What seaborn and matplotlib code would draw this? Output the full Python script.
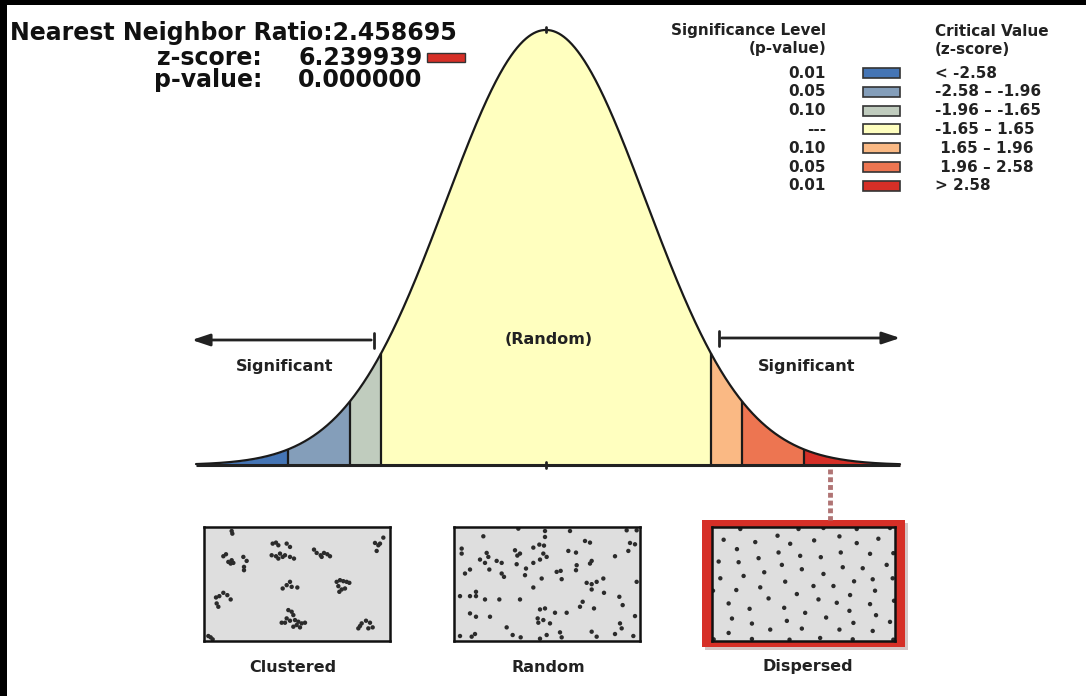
import numpy as np
import matplotlib
matplotlib.use("Agg")
import matplotlib.pyplot as plt
from matplotlib.patches import Rectangle
import seaborn as sns

# summary values
ratio_value = "2.458695"
z_score_value = "6.239939"
p_value_value = "0.000000"

# class breaks on the z axis and their colours
z_breaks = [-3.5, -2.58, -1.96, -1.65, 1.65, 1.96, 2.58, 3.54]
bin_colors = ["#4575b5", "#849eba", "#c0ccbe", "#ffffbf", "#fab984", "#ed7551", "#d62f27"]
legend_p = ["0.01", "0.05", "0.10", "---", "0.10", "0.05", "0.01"]
legend_z = ["< -2.58", "-2.58 \u2013 -1.96", "-1.96 \u2013 -1.65", "-1.65 \u2013 1.65",
            " 1.65 \u2013 1.96", " 1.96 \u2013 2.58", "> 2.58"]
panel_labels = ["Clustered", "Random", "Dispersed"]

# point patterns (box units)
clustered_x = [125, 127, 100, 108, 115, 122, 130, 125, 160, 170, 162, 162,
               248, 258, 265, 290, 300, 245, 258, 270, 278, 285, 300, 312, 265,
               372, 380, 392, 402, 412, 420, 395, 580, 555, 565, 570, 560,
               278, 290, 300, 305, 322, 440, 450, 460, 470, 478, 445, 455, 465, 448,
               78, 88, 100, 112, 122, 80, 85,
               295, 305, 310, 290, 300, 275, 285, 315, 325, 335, 345, 320, 330, 310,
               505, 510, 515, 528, 540, 535, 548, 55, 62, 68]
clustered_y = [62, 70, 138, 132, 155, 160, 158, 150, 140, 152, 170, 180,
               100, 97, 105, 100, 110, 135, 138, 130, 140, 135, 140, 145, 145,
               118, 128, 135, 128, 132, 138, 140, 82, 98, 105, 100, 122,
               235, 225, 215, 230, 232, 215, 210, 213, 215, 218, 228, 238, 235, 245,
               262, 258, 248, 255, 268, 280, 290,
               300, 305, 315, 325, 332, 338, 338, 330, 335, 340, 338, 345, 352, 350,
               355, 348, 340, 332, 338, 355, 352, 378, 382, 388]
random_x = [130, 235, 315, 390, 560, 590, 315, 435, 450, 570, 585,
            65, 225, 280, 298, 312, 385, 408, 565, 65, 140, 145, 240, 232, 310, 320, 525,
            120, 135, 170, 185, 230, 280, 300, 410, 455, 450,
            90, 75, 148, 185, 192, 258, 255, 350, 362, 408, 305, 365,
            440, 455, 470, 490, 455, 590, 280,
            60, 90, 108, 108, 135, 178, 240, 492, 538, 548,
            428, 420, 462, 300, 315, 380, 345,
            90, 108, 150, 293, 310, 295, 330, 585,
            540, 545, 200, 218, 242, 300, 320, 360, 365, 455, 470, 525, 580, 60, 95, 105]
random_y = [78, 55, 62, 62, 60, 60, 80, 92, 97, 98, 102,
            115, 120, 112, 103, 106, 122, 127, 122, 130, 128, 140, 130, 136, 130, 140, 138,
            148, 158, 152, 158, 162, 158, 148, 165, 152, 160,
            178, 190, 178, 190, 200, 175, 195, 185, 182, 180, 205, 207,
            218, 222, 215, 205, 238, 215, 232,
            258, 258, 258, 245, 268, 268, 268, 248, 260, 285,
            275, 290, 295, 298, 295, 308, 308,
            310, 320, 320, 325, 330, 338, 340, 318,
            340, 355, 352, 375, 382, 386, 375, 367, 382, 365, 380, 372, 378, 378, 380, 372]
dispersed_x = [150, 325, 400, 500, 600,
               100, 195, 262, 300, 372, 448, 500, 565,
               140, 265, 330, 392, 452, 540, 610,
               85, 145, 205, 275, 335, 400, 458, 518, 590,
               90, 160, 222, 285, 370, 430, 492, 548, 608,
               68, 138, 210, 320, 385, 440, 480, 555,
               115, 178, 235, 282, 345, 408, 478, 540, 612,
               125, 185, 240, 290, 335, 448, 490, 558, 600,
               115, 70, 185, 298, 390, 488, 548, 610]
dispersed_y = [58, 58, 55, 58, 55,
               90, 97, 78, 102, 92, 80, 100, 87,
               118, 128, 138, 142, 128, 132, 130,
               155, 157, 145, 165, 178, 192, 172, 175, 165,
               205, 198, 187, 215, 228, 228, 214, 208, 205,
               242, 240, 232, 252, 268, 278, 255, 242,
               280, 296, 265, 293, 308, 322, 302, 282, 272,
               325, 340, 358, 332, 355, 358, 338, 315, 335,
               368, 387, 386, 388, 383, 387, 362, 388]

W, H = 1086, 696
sns.set_theme(style="white")
plt.rcParams["font.family"] = ["DejaVu Sans"]

fig = plt.figure(figsize=(W / 100, H / 100), dpi=100)
fig.patch.set_facecolor("white")

# normal curve in z units
ax_c = fig.add_axes([0, 0, 1, 1])
ax_c.set_xlim(-5.46, 5.40)
ax_c.set_ylim(-0.2118, 0.4264)
ax_c.axis("off")

zz = np.linspace(z_breaks[0], z_breaks[-1], 1400)
dens = np.exp(-zz ** 2 / 2) / np.sqrt(2 * np.pi)
for lo, hi, c in zip(z_breaks[:-1], z_breaks[1:], bin_colors):
    m = (zz >= lo - 1e-9) & (zz <= hi + 1e-9)
    ax_c.fill_between(zz[m], 0, dens[m], color=c, lw=0)
inner = np.array(z_breaks[1:-1])
ax_c.vlines(inner, 0, np.exp(-inner ** 2 / 2) / np.sqrt(2 * np.pi), color="#1a1a1a", lw=1.6)
sns.lineplot(x=zz, y=dens, ax=ax_c, color="#1a1a1a", lw=1.6, sort=False)
ax_c.plot([z_breaks[0], z_breaks[-1]], [0, 0], color="#222222", lw=2.2, solid_capstyle="butt")
ax_c.plot([0, 0], [-0.003, 0.003], color="#222222", lw=2)
ax_c.plot([0, 0], [0.3975, 0.4015], color="#222222", lw=2)

# pixel overlay for frame, text and legend
ax = fig.add_axes([0, 0, 1, 1])
ax.set_xlim(0, W)
ax.set_ylim(H, 0)
ax.axis("off")
ax.patch.set_alpha(0)

ax.add_patch(Rectangle((0, 0), W, 5, color="black", lw=0))
ax.add_patch(Rectangle((0, 0), 7, H, color="black", lw=0))

hdr = dict(fontsize=17, fontweight="bold", color="#111111", va="center")
ax.text(10, 33, "Nearest Neighbor Ratio:" + ratio_value, ha="left", **hdr)
ax.text(262, 58, "z-score:", ha="right", **hdr)
ax.text(298, 58, z_score_value, ha="left", **hdr)
ax.text(262, 80, "p-value:", ha="right", **hdr)
ax.text(298, 80, p_value_value, ha="left", **hdr)
ax.add_patch(Rectangle((427, 53), 38, 9, facecolor=bin_colors[-1], edgecolor="#333333", lw=1))

leg = dict(fontsize=11, fontweight="bold", color="#222222", va="center")
ax.text(826, 31, "Significance Level", ha="right", **leg)
ax.text(826, 49, "(p-value)", ha="right", **leg)
ax.text(935, 31, "Critical Value", ha="left", **leg)
ax.text(935, 49, "(z-score)", ha="left", **leg)
for i, (p, zl, c) in enumerate(zip(legend_p, legend_z, bin_colors)):
    yy = 73 + i * 18.8
    ax.text(826, yy, p, ha="right", **leg)
    ax.add_patch(Rectangle((863, yy - 5), 37, 10, facecolor=c, edgecolor="#333333", lw=1.2))
    ax.text(935, yy, zl, ha="left", **leg)

lab = dict(fontsize=11.5, fontweight="bold", color="#222222", ha="center", va="center")
ax.text(285, 367, "Significant", **lab)
ax.text(807, 367, "Significant", **lab)
ax.text(549, 340, "(Random)", **lab)

# arrows
ax.annotate("", xy=(189, 340), xytext=(374, 340),
            arrowprops=dict(arrowstyle="-|>,head_length=0.9,head_width=0.3", color="#222222", lw=2))
ax.plot([374, 374], [333, 348], color="#222222", lw=2)
ax.annotate("", xy=(903, 338), xytext=(719, 338),
            arrowprops=dict(arrowstyle="-|>,head_length=0.9,head_width=0.3", color="#222222", lw=2))
ax.plot([719, 719], [331, 346], color="#222222", lw=2)

# link from the curve to the dispersed panel
ax.plot([830, 830], [469, 520], color="#b07474", lw=3.5, linestyle=(0, (1.0, 0.6)))

# dispersed panel highlight with a soft shadow
ax.add_patch(Rectangle((705, 523), 203, 127, facecolor="#d4c6c6", lw=0))
ax.add_patch(Rectangle((702, 520), 203, 127, facecolor="#d62f27", lw=0))

for x0, lbl in zip([293, 548, 808], panel_labels):
    ax.text(x0, 667, lbl, **lab)

# point pattern panels
def panel(x0, y0, w, h, px, py, xl, yl):
    a = fig.add_axes([x0 / W, 1 - (y0 + h) / H, w / W, h / H])
    a.set_facecolor("#dedede")
    sns.scatterplot(x=px, y=py, ax=a, s=10, color="#2b2b2b", edgecolor="none", legend=False)
    a.set_xlim(*xl)
    a.set_ylim(*yl)
    a.set_xticks([])
    a.set_yticks([])
    a.set_xlabel("")
    a.set_ylabel("")
    for s in a.spines.values():
        s.set_color("#111111")
        s.set_linewidth(1.8)
        s.set_visible(True)
    return a

panel(204, 527, 186, 114, clustered_x, clustered_y, (42, 600), (393, 50))
panel(454, 527, 186, 114, random_x, random_y, (42, 600), (393, 50))
panel(712, 527, 183, 114, dispersed_x, dispersed_y, (65, 615), (392, 52))

fig.savefig("out.png", dpi=100, facecolor="white")
